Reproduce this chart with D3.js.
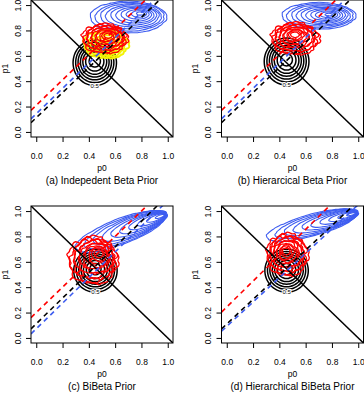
<!DOCTYPE html>
<meta charset="utf-8">
<script src="https://cdn.jsdelivr.net/npm/d3@7"></script>
<style>
  body { margin: 0; background: #fff; }
  svg text { font-family: "Liberation Sans", Arial, sans-serif; fill: #000; }
</style>
<div id="my_dataviz"></div>
<script>

// panel captions (typos as in the figure)
var panelTitles = ["(a) Indepedent Beta Prior", "(b) Hierarcical Beta Prior",
                   "(c) BiBeta Prior", "(d) Hierarchical BiBeta Prior"];
var tickVals = [0, 0.2, 0.4, 0.6, 0.8, 1.0];
var tickLabels = ["0.0", "0.2", "0.4", "0.6", "0.8", "1.0"];

// dashed lines  p1 = a + b * p0
var redA = [0.21, 0.21, 0.20, 0.244],   redB = [1.0, 1.0, 1.0, 1.02];
var blueA = [0.143, 0.143, 0.072, 0.091], blueB = [1.0, 1.0, 1.01, 0.96];
var blackA = [0.112, 0.112, 0.112, 0.11], blackB = [0.99, 0.99, 1.01, 0.97];

// contour sets: outer ring centre / radii, tilt (deg), drift of inner rings
var blackCx = [0.445, 0.455, 0.45, 0.455], blackCy = [0.545, 0.555, 0.53, 0.53];
var blackRx = [0.165, 0.17, 0.165, 0.165], blackRy = [0.18, 0.185, 0.17, 0.17];
var blackLevels = [1, 0.88, 0.77, 0.66, 0.55, 0.42, 0.26];

var blueCx = [0.70, 0.70, 0.645, 0.65], blueCy = [0.905, 0.915, 0.84, 0.89];
var blueRx = [0.29, 0.28, 0.37, 0.36], blueRy = [0.125, 0.105, 0.10, 0.085];
var blueTilt = [0, 0, 21, 15.5];
var blueKx = [0.35, 0.3, 0.95, 0.95], blueKy = [0.25, 0.1, 0, 0];
var blueLevels = [1, 0.9, 0.8, 0.7, 0.6, 0.5, 0.4, 0.3, 0.2, 0.1];

var redCx = [0.52, 0.52, 0.43, 0.46], redCy = [0.735, 0.735, 0.61, 0.655];
var redRx = [0.17, 0.18, 0.185, 0.155], redRy = [0.115, 0.125, 0.185, 0.165];
var redKx = [0.2, 0, 0.3, -0.05], redKy = [0.25, 0.3, 0.35, 0.2];
var redLevels = [1, 0.93, 0.86, 0.78, 0.7, 0.62, 0.54, 0.45, 0.36, 0.27, 0.18];

// yellow set only in panel (a)
var yellowCx = [0.53, null, null, null], yellowCy = [0.69, null, null, null];
var yellowRx = [0.17, null, null, null], yellowRy = [0.11, null, null, null];
var yellowLevels = [1, 0.85, 0.7, 0.55, 0.4, 0.25];

// roughness of the sampled contours
var wiggle = [0.3, -0.5, 0.8, -0.2, 0.6, -0.9, 0.1, 0.7, -0.4, 0.9, -0.7, 0.2, -0.1, 0.5, -0.8,
              0.4, -0.3, 1.0, -0.6, 0.0, 0.7, -0.5, 0.3, -1.0, 0.6, -0.2, 0.8, -0.4, 0.2, -0.7, 0.5];

var blueCol = "#3d5cf0";

var svg = d3.select("#my_dataviz").append("svg")
    .attr("width", 364).attr("height", 395);

var boxW = 142, boxH = 137;
var colX = [31, 221.5], rowY = [0, 206];

var ringLine = d3.line().curve(d3.curveCatmullRomClosed);

// one family of nested rings
function drawRings(g, x, y, cx, cy, rx, ry, tilt, kx, ky, levels, color, width, rough) {
  var t = tilt * Math.PI / 180, ct = Math.cos(t), st = Math.sin(t);
  var pcx = x(cx), pcy = y(cy);
  var Rx = x(cx + rx) - x(cx), Ry = y(cy) - y(cy + ry);
  levels.forEach(function(f, li) {
    var rxi = Rx * f, ryi = Ry * f;
    var a = kx * (Rx - rxi), b = ky * (Ry - ryi);
    var ox = pcx + a * ct - b * st, oy = pcy - a * st - b * ct;
    var n = rough > 0 ? Math.max(16, Math.round(52 * f)) : 48, pts = [];
    for (var k = 0; k < n; k++) {
      var ang = 2 * Math.PI * k / n;
      var r = 1 + rough * wiggle[(k * 2 + li * 5) % wiggle.length];
      var ux = rxi * Math.cos(ang) * r, uy = -ryi * Math.sin(ang) * r;
      pts.push([ox + ux * ct + uy * st, oy - ux * st + uy * ct]);
    }
    g.append("path").attr("d", ringLine(pts))
      .attr("fill", "none").attr("stroke", color).attr("stroke-width", width);
  });
}

panelTitles.forEach(function(title, i) {
  var left = colX[i % 2], top = rowY[Math.floor(i / 2)];
  var g = svg.append("g").attr("transform", "translate(" + left + "," + top + ")");

  var x = d3.scaleLinear().domain([-0.04, 1.04]).range([0, boxW]);
  var y = d3.scaleLinear().domain([-0.04, 1.04]).range([boxH, 0]);

  g.append("clipPath").attr("id", "clip" + i)
    .append("rect").attr("width", boxW).attr("height", boxH);
  var plot = g.append("g").attr("clip-path", "url(#clip" + i + ")");

  // contours
  drawRings(plot, x, y, blackCx[i], blackCy[i], blackRx[i], blackRy[i], 0, 0, 0.1,
            blackLevels, "#000", 1.5, 0);
  drawRings(plot, x, y, blueCx[i], blueCy[i], blueRx[i], blueRy[i], blueTilt[i],
            blueKx[i], blueKy[i], blueLevels, blueCol, 1.1, 0.02);
  if (yellowCx[i] != null)
    drawRings(plot, x, y, yellowCx[i], yellowCy[i], yellowRx[i], yellowRy[i], 0, 0.1, -0.2,
              yellowLevels, "#f2f200", 2, 0.06);
  drawRings(plot, x, y, redCx[i], redCy[i], redRx[i], redRy[i], 0, redKx[i], redKy[i],
            redLevels, "#ff0000", 1.3, 0.1);

  // contour label on the outer black ring
  plot.append("text")
    .attr("x", x(blackCx[i])).attr("y", y(blackCy[i] - blackRy[i]))
    .attr("dy", "0.35em").attr("text-anchor", "middle")
    .style("font-size", "6px")
    .style("stroke", "#fff").style("stroke-width", 2).style("paint-order", "stroke")
    .text("0.5");

  // p0 + p1 = 1
  plot.append("line")
    .attr("x1", x(-0.04)).attr("y1", y(1.04))
    .attr("x2", x(1.04)).attr("y2", y(-0.04))
    .attr("stroke", "#000").attr("stroke-width", 1.5);

  // dashed lines
  [["#ff0000", redA[i], redB[i]], [blueCol, blueA[i], blueB[i]], ["#000", blackA[i], blackB[i]]]
    .forEach(function(d) {
      plot.append("line")
        .attr("x1", x(-0.04)).attr("y1", y(d[1] + d[2] * -0.04))
        .attr("x2", x(1.04)).attr("y2", y(d[1] + d[2] * 1.04))
        .attr("stroke", d[0]).attr("stroke-width", 1.6)
        .attr("stroke-dasharray", "5,4");
    });

  // frame
  g.append("rect").attr("width", boxW).attr("height", boxH)
    .attr("fill", "none").attr("stroke", "#000").attr("stroke-width", 1);

  // x axis
  var xa = g.append("g").attr("transform", "translate(0," + boxH + ")")
    .call(d3.axisBottom(x).tickValues(tickVals)
      .tickFormat(function(d, k) { return tickLabels[k]; })
      .tickSize(5).tickPadding(11));
  xa.select(".domain").remove();
  xa.selectAll("text").style("font-size", "8.5px");

  // y axis, labels turned like in R
  var ya = g.append("g")
    .call(d3.axisLeft(y).tickValues(tickVals)
      .tickFormat(function(d, k) { return tickLabels[k]; })
      .tickSize(5));
  ya.select(".domain").remove();
  ya.selectAll("text").style("font-size", "8.5px")
    .attr("transform", "rotate(-90)")
    .attr("x", 0).attr("y", -13).attr("dy", "0.35em")
    .attr("text-anchor", "middle");

  // axis titles
  g.append("text").attr("x", boxW / 2).attr("y", boxH + 33.5)
    .attr("text-anchor", "middle").style("font-size", "8.5px").text("p0");
  g.append("text").attr("transform", "translate(-26," + (boxH / 2) + ") rotate(-90)")
    .attr("dy", "0.35em").attr("text-anchor", "middle")
    .style("font-size", "8.5px").text("p1");

  // caption
  g.append("text").attr("x", boxW / 2).attr("y", boxH + 46.5)
    .attr("text-anchor", "middle").style("font-size", "10px").text(title);
});

</script>
